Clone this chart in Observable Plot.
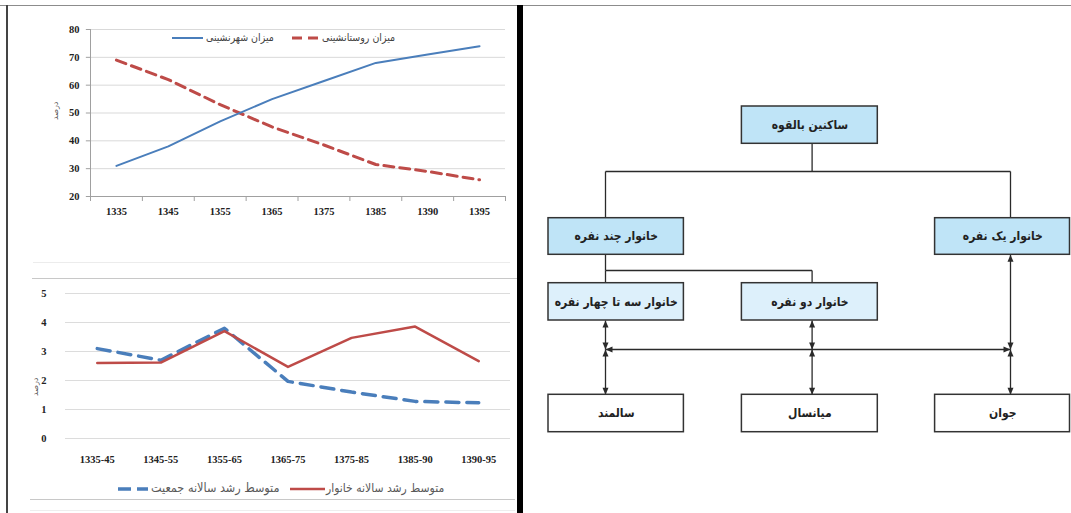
<!DOCTYPE html>
<html><head><meta charset="utf-8">
<script src="https://cdn.jsdelivr.net/npm/d3@7"></script>
<script src="https://cdn.jsdelivr.net/npm/@observablehq/plot@0.6"></script>
<style>
html,body{margin:0;padding:0;background:#fff;}
#page{position:relative;width:1071px;height:513px;overflow:hidden;background:#fff;font-family:"DejaVu Sans",sans-serif;}
.abs{position:absolute;}
.line{position:absolute;height:1px;}
.lg{position:absolute;white-space:nowrap;direction:rtl;line-height:1;font-family:"DejaVu Sans Condensed","DejaVu Sans",sans-serif;}
</style></head><body>
<div id="page">
  <div id="c1" class="abs" style="left:0;top:0"></div>
  <div id="c2" class="abs" style="left:0;top:250px"></div>
  <div id="dg" class="abs" style="left:523px;top:0"></div>
  <div class="line" style="top:262px;left:33px;width:477px;background:#ececec"></div>
  <div class="line" style="top:278px;left:32px;width:485px;background:#c8c8c8"></div>
  <div class="line" style="top:499px;left:30px;width:485px;background:#c8c8c8"></div>
  <div class="line" style="top:510px;left:30px;width:485px;background:#eeeeee"></div>
  <div class="abs" style="top:5px;left:0;width:1071px;height:1px;background:#8c8c8c"></div>
  <div class="abs" style="top:5px;left:6px;width:2px;height:508px;background:#444"></div>
  <div class="abs" style="top:5px;left:517px;width:6px;height:508px;background:#000"></div>
  <div id="leg1"></div>
  <div id="leg2"></div>
</div>
<script>
// ---------- data: chart 1 ----------
const censusYears = ["1335","1345","1355","1365","1375","1385","1390","1395"];
const urbanRate = [31, 38, 47, 55, 61.5, 68, 71, 74];
const ruralRate = [69, 62, 53, 45, 38.5, 31.5, 29, 26];
const rateTicks = [20, 30, 40, 50, 60, 70, 80];
const urbanLabel = "میزان شهرنشینی";
const ruralLabel = "میزان روستانشینی";
const axisTitle = "درصد";

// ---------- data: chart 2 ----------
const periods = ["1335-45","1345-55","1355-65","1365-75","1375-85","1385-90","1390-95"];
const householdGrowth = [2.6, 2.62, 3.7, 2.47, 3.47, 3.86, 2.67];
const populationGrowth = [3.1, 2.7, 3.8, 1.97, 1.6, 1.28, 1.23];
const growthTicks = [0, 1, 2, 3, 4, 5];
const householdLabel = "متوسط رشد سالانه خانوار";
const populationLabel = "متوسط رشد سالانه جمعیت";

// ---------- data: diagram ----------
const nodeLabels = ["ساکنین بالقوه","خانوار چند نفره","خانوار یک نفره","خانوار سه تا چهار نفره","خانوار دو نفره","سالمند","میانسال","جوان"];
const nodeCols = [1, 0, 2, 0, 1, 0, 1, 2];
const nodeRows = ["root","mid","mid","sub","sub","age","age","age"];
const plainLinks = [
  [1,"rootBot",1,"bus1"], [0,"bus1",2,"bus1"], [0,"bus1",0,"midTop"], [2,"bus1",2,"midTop"],
  [0,"midBot",0,"bus2"], [0,"bus2",1,"bus2"], [0,"bus2",0,"subTop"], [1,"bus2",1,"subTop"]
];
const twoWayLinks = [
  [0,"subBot",0,"hub"], [0,"hub",0,"ageTop"],
  [1,"subBot",1,"hub"], [1,"hub",1,"ageTop"],
  [2,"midBot",2,"hub"], [2,"hub",2,"ageTop"],
  [0,"hub",2,"hub"]
];
const xStops = ["L0","lane0","mid0","R0","L1","mid1","lane1","R1","L2","mid2","lane2","R2"];
const yStops = ["rootTop","rootMid","rootBot","bus1","midTop","midMid","midBot","bus2","subTop","subMid","subBot","hub","ageTop","ageMid","ageBot"];

// ---------- chart 1 ----------
const idx = censusYears.map((_, i) => i);
const c1 = Plot.plot({
  width: 515, height: 250, marginLeft: 90, marginRight: 10, marginTop: 29, marginBottom: 54,
  style: {background: "transparent", fontFamily: "Liberation Serif", fontSize: "10.5px", fontWeight: "bold", color: "#222"},
  x: {domain: [-0.5, censusYears.length - 0.5], ticks: idx, tickFormat: i => censusYears[i], tickSize: 0, tickPadding: 11, label: null},
  y: {domain: [20, 80], ticks: rateTicks, tickFormat: d => String(d), tickSize: 0, tickPadding: 11, label: null},
  marks: [
    Plot.ruleY(rateTicks.slice(1), {stroke: "#d9d9d9"}),
    Plot.ruleY([20], {stroke: "#a0a0a0"}),
    Plot.ruleX([-0.5], {stroke: "#a0a0a0"}),
    Plot.ruleY(rateTicks, {x1: -0.5, x2: -0.58, stroke: "#a0a0a0"}),
    Plot.ruleX(d3.range(censusYears.length + 1).map(i => i - 0.5), {y1: 20, y2: 18.2, stroke: "#a0a0a0"}),
    Plot.line(idx, {x: i => i, y: i => ruralRate[i], stroke: "#be4b48", strokeWidth: 3, strokeDasharray: "10,6"}),
    Plot.line(idx, {x: i => i, y: i => urbanRate[i], stroke: "#4a7ebb", strokeWidth: 2}),
    Plot.text([axisTitle], {text: d => d, frameAnchor: "left", dx: -35, dy: 7, rotate: -90, fontFamily: "DejaVu Sans", fontSize: 8, fontWeight: "normal", fill: "#555"})
  ]
});
document.getElementById("c1").appendChild(c1);

// ---------- chart 2 ----------
const pidx = periods.map((_, i) => i);
const c2 = Plot.plot({
  width: 515, height: 263, marginLeft: 65, marginRight: 5, marginTop: 43, marginBottom: 75,
  style: {background: "transparent", fontFamily: "Liberation Serif", fontSize: "10.5px", fontWeight: "bold", color: "#222"},
  x: {domain: [-0.5, periods.length - 0.5], ticks: pidx, tickFormat: i => periods[i], tickSize: 0, tickPadding: 17, label: null},
  y: {domain: [0, 5], ticks: growthTicks, tickFormat: d => String(d), tickSize: 0, tickPadding: 19, label: null},
  marks: [
    Plot.ruleY(growthTicks, {stroke: "#dcdcdc"}),
    Plot.line(pidx, {x: i => i, y: i => populationGrowth[i], stroke: "#4a7ebb", strokeWidth: 3.5, strokeDasharray: "13,8"}),
    Plot.line(pidx, {x: i => i, y: i => householdGrowth[i], stroke: "#be4b48", strokeWidth: 2.5}),
    Plot.text([axisTitle], {text: d => d, frameAnchor: "left", dx: -30, dy: 30, rotate: -90, fontFamily: "DejaVu Sans", fontSize: 8, fontWeight: "normal", fill: "#555"})
  ]
});
document.getElementById("c2").appendChild(c2);

// ---------- legends (HTML) ----------
function sample(color, dash, w, sw) {
  return `<svg width="${w}" height="8" style="position:absolute;top:0"><line x1="0" y1="4" x2="${w}" y2="4" stroke="${color}" stroke-width="${sw}" ${dash ? `stroke-dasharray="${dash}"` : ""}/></svg>`;
}
document.getElementById("leg1").innerHTML =
  `<div class="abs" style="left:172px;top:34px">${sample("#4a7ebb", null, 31, 2)}</div>
   <div class="lg" style="left:206px;top:32px;font-size:10.5px;color:#404040">${urbanLabel}</div>
   <div class="abs" style="left:292px;top:34px">${sample("#be4b48", "10,6", 27, 3)}</div>
   <div class="lg" style="left:322px;top:32px;font-size:10.5px;color:#404040">${ruralLabel}</div>`;
document.getElementById("leg2").innerHTML =
  `<div class="abs" style="left:118px;top:485px">${sample("#4a7ebb", "13,6", 30, 3.5)}</div>
   <div class="lg" style="left:151px;top:482px;font-size:12.5px;color:#595959">${populationLabel}</div>
   <div class="abs" style="left:290px;top:485px">${sample("#be4b48", null, 35, 2.5)}</div>
   <div class="lg" style="left:326px;top:482px;font-size:12px;color:#595959">${householdLabel}</div>`;

// ---------- diagram ----------
function headMarker(color, context) {
  const doc = (context && context.document) || document;
  const ns = "http://www.w3.org/2000/svg";
  const m = doc.createElementNS(ns, "marker");
  m.setAttribute("viewBox", "-7 -3.5 7 7");
  m.setAttribute("markerWidth", "7");
  m.setAttribute("markerHeight", "7");
  m.setAttribute("markerUnits", "userSpaceOnUse");
  m.setAttribute("orient", "auto-start-reverse");
  m.setAttribute("refX", "0");
  m.setAttribute("refY", "0");
  m.setAttribute("overflow", "visible");
  const p = doc.createElementNS(ns, "path");
  p.setAttribute("d", "M-7,-3L0,0L-7,3Z");
  p.setAttribute("fill", color);
  p.setAttribute("stroke", "none");
  m.appendChild(p);
  return m;
}
const nodes = nodeLabels.map((label, i) => ({label, col: nodeCols[i], row: nodeRows[i]}));
const xi = name => xStops.indexOf(name);
const yi = name => yStops.indexOf(name);
const rowFill = {root: "#bfe4f7", mid: "#bfe4f7", sub: "#ddf0fb", age: "#ffffff"};
function diagram(marker) {
  return Plot.plot({
    width: 548, height: 513,
    style: {background: "transparent"},
    x: {type: "linear", domain: d3.range(xStops.length), range: [25, 82, 92.7, 160.4, 218.4, 286.4, 288.6, 354.3, 411.6, 479.3, 487, 546.5], axis: null},
    y: {type: "linear", domain: d3.range(yStops.length), range: [106, 124.7, 143.3, 171, 217.7, 236, 254.3, 270, 282.7, 301.3, 320, 349, 394.3, 413, 431.7], axis: null},
    color: {type: "identity"},
    marks: [
      Plot.link(plainLinks, {x1: d => xi("lane" + d[0]), y1: d => yi(d[1]), x2: d => xi("lane" + d[2]), y2: d => yi(d[3]), stroke: "#2a2a2a", strokeWidth: 1.3}),
      Plot.link(twoWayLinks, {x1: d => xi("lane" + d[0]), y1: d => yi(d[1]), x2: d => xi("lane" + d[2]), y2: d => yi(d[3]), stroke: "#2a2a2a", strokeWidth: 1.3, markerStart: marker, markerEnd: marker}),
      Plot.rect(nodes, {x1: d => xi("L" + d.col), x2: d => xi("R" + d.col), y1: d => yi(d.row + "Top"), y2: d => yi(d.row + "Bot"), fill: d => rowFill[d.row], stroke: "#333", strokeWidth: 1.5}),
      Plot.text(nodes, {x: d => xi("mid" + d.col), y: d => yi(d.row + "Mid"), text: d => d.label, fontFamily: "DejaVu Sans Condensed", fontSize: 12, fontWeight: "bold", fill: "#222"})
    ]
  });
}
let dg;
try { dg = diagram(headMarker); } catch (e) { dg = diagram("arrow"); }
document.getElementById("dg").appendChild(dg);
</script>
</body></html>
